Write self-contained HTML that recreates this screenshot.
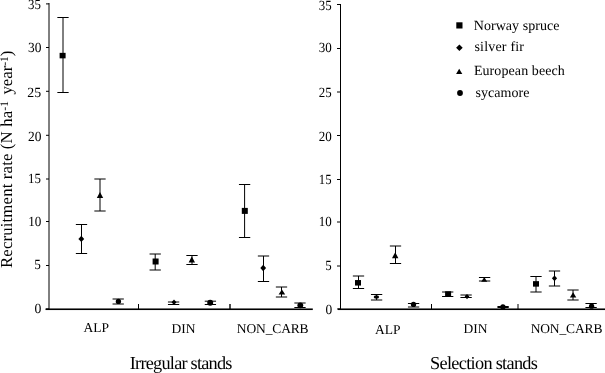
<!DOCTYPE html>
<html><head><meta charset="utf-8"><style>
html,body{margin:0;padding:0;background:#fff;}
body{width:605px;height:373px;overflow:hidden;}
svg{display:block;will-change:transform;}
text{font-family:"Liberation Serif",serif;fill:#000;text-rendering:geometricPrecision;}
</style></head><body>
<svg width="605" height="373" viewBox="0 0 605 373">
<rect width="605" height="373" fill="#fff"/>
<line x1="49" y1="3" x2="49" y2="309" stroke="#000" stroke-width="1"/>
<line x1="46" y1="309.00" x2="49" y2="309.00" stroke="#000" stroke-width="1"/>
<line x1="46" y1="265.50" x2="49" y2="265.50" stroke="#000" stroke-width="1"/>
<line x1="46" y1="221.50" x2="49" y2="221.50" stroke="#000" stroke-width="1"/>
<line x1="46" y1="179.00" x2="49" y2="179.00" stroke="#000" stroke-width="1"/>
<line x1="46" y1="135.30" x2="49" y2="135.30" stroke="#000" stroke-width="1"/>
<line x1="46" y1="91.30" x2="49" y2="91.30" stroke="#000" stroke-width="1"/>
<line x1="46" y1="47.50" x2="49" y2="47.50" stroke="#000" stroke-width="1"/>
<line x1="46" y1="3.90" x2="49" y2="3.90" stroke="#000" stroke-width="1"/>
<line x1="340.5" y1="4" x2="340.5" y2="309" stroke="#000" stroke-width="1"/>
<line x1="337" y1="309.00" x2="340.5" y2="309.00" stroke="#000" stroke-width="1"/>
<line x1="337" y1="266.00" x2="340.5" y2="266.00" stroke="#000" stroke-width="1"/>
<line x1="337" y1="222.00" x2="340.5" y2="222.00" stroke="#000" stroke-width="1"/>
<line x1="337" y1="179.50" x2="340.5" y2="179.50" stroke="#000" stroke-width="1"/>
<line x1="337" y1="135.50" x2="340.5" y2="135.50" stroke="#000" stroke-width="1"/>
<line x1="337" y1="92.00" x2="340.5" y2="92.00" stroke="#000" stroke-width="1"/>
<line x1="337" y1="48.50" x2="340.5" y2="48.50" stroke="#000" stroke-width="1"/>
<line x1="337" y1="4.50" x2="340.5" y2="4.50" stroke="#000" stroke-width="1"/>
<line x1="138.5" y1="304" x2="138.5" y2="309" stroke="#000" stroke-width="1"/>
<line x1="230.0" y1="304" x2="230.0" y2="309" stroke="#000" stroke-width="1.4"/>
<line x1="431.5" y1="304" x2="431.5" y2="309" stroke="#000" stroke-width="1"/>
<line x1="518.0" y1="304" x2="518.0" y2="309" stroke="#000" stroke-width="1"/>
<rect x="45.5" y="308.45" width="267.3" height="1.6" fill="#000"/>
<rect x="338" y="308.45" width="267" height="1.6" fill="#000"/>
<line x1="63.0" y1="17.5" x2="63.0" y2="92.5" stroke="#000" stroke-width="1"/>
<line x1="57.35" y1="17.5" x2="68.65" y2="17.5" stroke="#000" stroke-width="1"/>
<line x1="57.35" y1="92.5" x2="68.65" y2="92.5" stroke="#000" stroke-width="1"/>
<rect x="59.60" y="52.85" width="6.0" height="5.5" fill="#000"/>
<line x1="81.5" y1="224.5" x2="81.5" y2="253.5" stroke="#000" stroke-width="1"/>
<line x1="75.85" y1="224.5" x2="87.15" y2="224.5" stroke="#000" stroke-width="1"/>
<line x1="75.85" y1="253.5" x2="87.15" y2="253.5" stroke="#000" stroke-width="1"/>
<path d="M81.30 235.70L84.20 238.90L81.30 242.10L78.40 238.90Z" fill="#000"/>
<line x1="100.0" y1="179.0" x2="100.0" y2="211.0" stroke="#000" stroke-width="1"/>
<line x1="94.35" y1="179.0" x2="105.65" y2="179.0" stroke="#000" stroke-width="1"/>
<line x1="94.35" y1="211.0" x2="105.65" y2="211.0" stroke="#000" stroke-width="1"/>
<path d="M100.00 192.00L103.20 198.00L96.80 198.00Z" fill="#000"/>
<line x1="118.2" y1="299.0" x2="118.2" y2="304.0" stroke="#000" stroke-width="1"/>
<line x1="112.55" y1="299.0" x2="123.85" y2="299.0" stroke="#000" stroke-width="1"/>
<line x1="112.55" y1="304.0" x2="123.85" y2="304.0" stroke="#000" stroke-width="1"/>
<circle cx="118.40" cy="301.40" r="2.65" fill="#000"/>
<line x1="155.2" y1="254.0" x2="155.2" y2="270.0" stroke="#000" stroke-width="1"/>
<line x1="149.55" y1="254.0" x2="160.85" y2="254.0" stroke="#000" stroke-width="1"/>
<line x1="149.55" y1="270.0" x2="160.85" y2="270.0" stroke="#000" stroke-width="1"/>
<rect x="152.60" y="258.50" width="6.0" height="5.995" fill="#000"/>
<line x1="173.6" y1="302.0" x2="173.6" y2="304.5" stroke="#000" stroke-width="1"/>
<line x1="167.95" y1="302.0" x2="179.25" y2="302.0" stroke="#000" stroke-width="1"/>
<line x1="167.95" y1="304.5" x2="179.25" y2="304.5" stroke="#000" stroke-width="1"/>
<path d="M174.00 299.58L176.47 302.30L174.00 305.02L171.53 302.30Z" fill="#000"/>
<line x1="192.0" y1="255.5" x2="192.0" y2="264.5" stroke="#000" stroke-width="1"/>
<line x1="186.35" y1="255.5" x2="197.65" y2="255.5" stroke="#000" stroke-width="1"/>
<line x1="186.35" y1="264.5" x2="197.65" y2="264.5" stroke="#000" stroke-width="1"/>
<path d="M191.80 256.50L195.00 262.50L188.60 262.50Z" fill="#000"/>
<line x1="210.4" y1="301.2" x2="210.4" y2="304.5" stroke="#000" stroke-width="1"/>
<line x1="204.75" y1="301.2" x2="216.05" y2="301.2" stroke="#000" stroke-width="1"/>
<line x1="204.75" y1="304.5" x2="216.05" y2="304.5" stroke="#000" stroke-width="1"/>
<circle cx="210.20" cy="302.80" r="2.97" fill="#000"/>
<line x1="244.6" y1="184.5" x2="244.6" y2="237.5" stroke="#000" stroke-width="1"/>
<line x1="238.95" y1="184.5" x2="250.25" y2="184.5" stroke="#000" stroke-width="1"/>
<line x1="238.95" y1="237.5" x2="250.25" y2="237.5" stroke="#000" stroke-width="1"/>
<rect x="241.80" y="207.90" width="6.0" height="5.995" fill="#000"/>
<line x1="263.5" y1="256.0" x2="263.5" y2="281.5" stroke="#000" stroke-width="1"/>
<line x1="257.85" y1="256.0" x2="269.15" y2="256.0" stroke="#000" stroke-width="1"/>
<line x1="257.85" y1="281.5" x2="269.15" y2="281.5" stroke="#000" stroke-width="1"/>
<path d="M263.20 264.80L266.10 268.00L263.20 271.20L260.30 268.00Z" fill="#000"/>
<line x1="281.5" y1="287.0" x2="281.5" y2="297.0" stroke="#000" stroke-width="1"/>
<line x1="275.85" y1="287.0" x2="287.15" y2="287.0" stroke="#000" stroke-width="1"/>
<line x1="275.85" y1="297.0" x2="287.15" y2="297.0" stroke="#000" stroke-width="1"/>
<path d="M281.90 289.39L285.20 294.61L278.60 294.61Z" fill="#000"/>
<line x1="300.0" y1="303.0" x2="300.0" y2="307.5" stroke="#000" stroke-width="1"/>
<line x1="294.35" y1="303.0" x2="305.65" y2="303.0" stroke="#000" stroke-width="1"/>
<line x1="294.35" y1="307.5" x2="305.65" y2="307.5" stroke="#000" stroke-width="1"/>
<circle cx="300.30" cy="305.30" r="2.92" fill="#000"/>
<line x1="358.5" y1="276.0" x2="358.5" y2="288.5" stroke="#000" stroke-width="1"/>
<line x1="352.85" y1="276.0" x2="364.15" y2="276.0" stroke="#000" stroke-width="1"/>
<line x1="352.85" y1="288.5" x2="364.15" y2="288.5" stroke="#000" stroke-width="1"/>
<rect x="355.00" y="280.05" width="6.0" height="5.5" fill="#000"/>
<line x1="376.6" y1="294.5" x2="376.6" y2="300.0" stroke="#000" stroke-width="1"/>
<line x1="370.95" y1="294.5" x2="382.25" y2="294.5" stroke="#000" stroke-width="1"/>
<line x1="370.95" y1="300.0" x2="382.25" y2="300.0" stroke="#000" stroke-width="1"/>
<ellipse cx="376.40" cy="297.00" rx="2.7" ry="1.8" fill="#000"/>
<line x1="395.5" y1="246.0" x2="395.5" y2="263.5" stroke="#000" stroke-width="1"/>
<line x1="389.85" y1="246.0" x2="401.15" y2="246.0" stroke="#000" stroke-width="1"/>
<line x1="389.85" y1="263.5" x2="401.15" y2="263.5" stroke="#000" stroke-width="1"/>
<path d="M395.20 252.20L398.40 258.20L392.00 258.20Z" fill="#000"/>
<line x1="413.6" y1="303.5" x2="413.6" y2="307.0" stroke="#000" stroke-width="1"/>
<line x1="407.95" y1="303.5" x2="419.25" y2="303.5" stroke="#000" stroke-width="1"/>
<line x1="407.95" y1="307.0" x2="419.25" y2="307.0" stroke="#000" stroke-width="1"/>
<circle cx="413.50" cy="304.40" r="2.65" fill="#000"/>
<line x1="447.7" y1="292.0" x2="447.7" y2="296.5" stroke="#000" stroke-width="1"/>
<line x1="442.05" y1="292.0" x2="453.35" y2="292.0" stroke="#000" stroke-width="1"/>
<line x1="442.05" y1="296.5" x2="453.35" y2="296.5" stroke="#000" stroke-width="1"/>
<rect x="445.10" y="291.25" width="6.0" height="5.5" fill="#000"/>
<line x1="466.1" y1="295.0" x2="466.1" y2="297.5" stroke="#000" stroke-width="1"/>
<line x1="460.45" y1="295.0" x2="471.75" y2="295.0" stroke="#000" stroke-width="1"/>
<line x1="460.45" y1="297.5" x2="471.75" y2="297.5" stroke="#000" stroke-width="1"/>
<path d="M467.00 294.04L469.32 296.60L467.00 299.16L464.68 296.60Z" fill="#000"/>
<line x1="484.6" y1="277.5" x2="484.6" y2="281.0" stroke="#000" stroke-width="1"/>
<line x1="478.95" y1="277.5" x2="490.25" y2="277.5" stroke="#000" stroke-width="1"/>
<line x1="478.95" y1="281.0" x2="490.25" y2="281.0" stroke="#000" stroke-width="1"/>
<path d="M484.20 277.35L487.24 281.85L481.16 281.85Z" fill="#000"/>
<line x1="503.1" y1="306.5" x2="503.1" y2="307.5" stroke="#000" stroke-width="1"/>
<line x1="497.45" y1="306.5" x2="508.75" y2="306.5" stroke="#000" stroke-width="1"/>
<line x1="497.45" y1="307.5" x2="508.75" y2="307.5" stroke="#000" stroke-width="1"/>
<circle cx="502.90" cy="307.00" r="2.65" fill="#000"/>
<line x1="536.0" y1="276.5" x2="536.0" y2="292.0" stroke="#000" stroke-width="1"/>
<line x1="530.35" y1="276.5" x2="541.65" y2="276.5" stroke="#000" stroke-width="1"/>
<line x1="530.35" y1="292.0" x2="541.65" y2="292.0" stroke="#000" stroke-width="1"/>
<rect x="533.00" y="281.15" width="6.0" height="5.5" fill="#000"/>
<line x1="554.5" y1="271.0" x2="554.5" y2="286.0" stroke="#000" stroke-width="1"/>
<line x1="548.85" y1="271.0" x2="560.15" y2="271.0" stroke="#000" stroke-width="1"/>
<line x1="548.85" y1="286.0" x2="560.15" y2="286.0" stroke="#000" stroke-width="1"/>
<path d="M554.50 275.42L557.11 278.30L554.50 281.18L551.89 278.30Z" fill="#000"/>
<line x1="573.0" y1="290.0" x2="573.0" y2="300.0" stroke="#000" stroke-width="1"/>
<line x1="567.35" y1="290.0" x2="578.65" y2="290.0" stroke="#000" stroke-width="1"/>
<line x1="567.35" y1="300.0" x2="578.65" y2="300.0" stroke="#000" stroke-width="1"/>
<path d="M573.10 292.20L576.30 297.60L569.90 297.60Z" fill="#000"/>
<line x1="591.1" y1="303.5" x2="591.1" y2="307.5" stroke="#000" stroke-width="1"/>
<line x1="585.45" y1="303.5" x2="596.75" y2="303.5" stroke="#000" stroke-width="1"/>
<line x1="585.45" y1="307.5" x2="596.75" y2="307.5" stroke="#000" stroke-width="1"/>
<circle cx="591.60" cy="306.20" r="2.65" fill="#000"/>
<rect x="456.30" y="22.30" width="6.2" height="6.2" fill="#000"/>
<path d="M459.40 44.40L462.70 47.70L459.40 51.00L456.10 47.70Z" fill="#000"/>
<path d="M459.20 68.70L462.30 73.90L456.10 73.90Z" fill="#000"/>
<circle cx="460.00" cy="93.00" r="2.9" fill="#000"/>
<text transform="translate(41.3,313.1) scale(0.98,1)" text-anchor="end" font-size="14">0</text>
<text transform="translate(332.2,313.65) scale(0.96,1)" text-anchor="end" font-size="14">0</text>
<text transform="translate(40.9,269.2) scale(0.94,1)" text-anchor="end" font-size="14">5</text>
<text transform="translate(331.8,269.6) scale(0.92,1)" text-anchor="end" font-size="14">5</text>
<text transform="translate(41.4,226.2) scale(0.94,1)" text-anchor="end" font-size="14">10</text>
<text transform="translate(331.7,226.1) scale(0.93,1)" text-anchor="end" font-size="14">10</text>
<text transform="translate(40.9,183.3) scale(0.92,1)" text-anchor="end" font-size="14">15</text>
<text transform="translate(331.5,183.7) scale(0.91,1)" text-anchor="end" font-size="14">15</text>
<text transform="translate(41.4,140.5) scale(0.96,1)" text-anchor="end" font-size="14">20</text>
<text transform="translate(331.7,141.0) scale(0.93,1)" text-anchor="end" font-size="14">20</text>
<text transform="translate(41.1,96.8) scale(0.99,1)" text-anchor="end" font-size="14">25</text>
<text transform="translate(331.6,97.05) scale(0.92,1)" text-anchor="end" font-size="14">25</text>
<text transform="translate(41.4,51.5) scale(0.96,1)" text-anchor="end" font-size="14">30</text>
<text transform="translate(331.7,52.0) scale(0.93,1)" text-anchor="end" font-size="14">30</text>
<text transform="translate(40.9,9.2) scale(0.92,1)" text-anchor="end" font-size="14">35</text>
<text transform="translate(331.6,9.5) scale(0.92,1)" text-anchor="end" font-size="14">35</text>
<text x="96.3" y="331.8" text-anchor="middle" font-size="13.5">ALP</text>
<text x="183.4" y="332.9" text-anchor="middle" font-size="13.5">DIN</text>
<text x="272.67" y="332.9" text-anchor="middle" font-size="13.5" letter-spacing="-0.14">NON_CARB</text>
<text x="387.8" y="333.5" text-anchor="middle" font-size="13.5">ALP</text>
<text x="475.6" y="332.9" text-anchor="middle" font-size="13.5">DIN</text>
<text x="566.47" y="333.0" text-anchor="middle" font-size="13.5" letter-spacing="-0.14">NON_CARB</text>
<text x="473.8" y="30.3" font-size="14" letter-spacing="0.04">Norway spruce</text>
<text x="474.4" y="51.2" font-size="14" letter-spacing="0.2">silver fir</text>
<text x="473.9" y="74.9" font-size="14" letter-spacing="0.09">European beech</text>
<text x="475.5" y="97.4" font-size="14" letter-spacing="0.03">sycamore</text>
<text x="129.8" y="368.7" font-size="18.3" letter-spacing="-0.77">Irregular stands</text>
<text x="430.1" y="368.7" font-size="18.3" letter-spacing="-0.7">Selection stands</text>
<text transform="translate(12.3,268) rotate(-90)" font-size="16.8"><tspan letter-spacing="0.14">Recruitment rate (N ha</tspan><tspan font-size="11.5" dy="-4.5">-1</tspan><tspan dy="4.5" dx="2.3"> year</tspan><tspan font-size="11.5" dy="-4.5">-1</tspan><tspan dy="4.5">)</tspan></text>
</svg>
</body></html>
